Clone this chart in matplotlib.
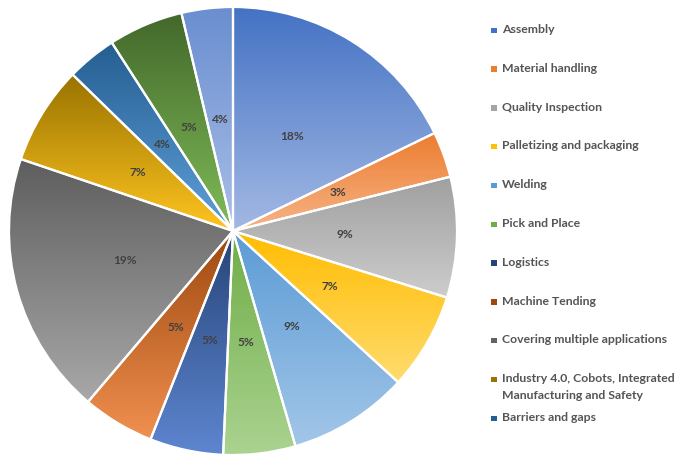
import numpy as np
import matplotlib
matplotlib.use("Agg")
import matplotlib.pyplot as plt
from matplotlib.colors import LinearSegmentedColormap
from matplotlib.patches import Rectangle, Wedge

plt.rcParams["font.family"] = ["Lato", "DejaVu Sans"]

# share of each application (%), clockwise from 12 o'clock
categories = [
    "Assembly",
    "Material handling",
    "Quality Inspection",
    "Palletizing and packaging",
    "Welding",
    "Pick and Place",
    "Logistics",
    "Machine Tending",
    "Covering multiple applications",
    "Industry 4.0, Cobots, Integrated\nManufacturing and Safety",
    "Barriers and gaps",
    "Other (12)",
    "Other (13)",
]
shares = [17.8, 3.3, 8.7, 7.0, 8.7, 5.2, 5.3, 5.2, 19.0, 7.1, 3.6, 5.4, 3.7]
n_legend = 11  # the last two entries are cut off in the source legend

# top / bottom colours of each slice gradient
top_colors = ["#4472C4", "#ED7D31", "#A0A0A0", "#FFBC00", "#5B9BD5", "#70AD47",
              "#264478", "#9E480E", "#5E5E5E", "#997300", "#255E91", "#43682B", "#6A8ED0"]
bottom_colors = ["#A3B9E4", "#F6B486", "#CDCDCD", "#FFDC6E", "#A2C6E8", "#AAD390",
                 "#5E86D0", "#F09050", "#A8A8A8", "#FFC520", "#5FA0DA", "#80BC58", "#A9BFE7"]
legend_colors = ["#4472C4", "#ED7D31", "#A5A5A5", "#FFC000", "#5B9BD5", "#70AD47",
                 "#264478", "#9E480E", "#636363", "#997300", "#255E91"]

fig = plt.figure(figsize=(6.8, 4.55), dpi=100)
ax = fig.add_axes([0, 0, 1, 1])

cx, cy, R = 233, 455 - 231, 224
wedges, _, pct_texts = ax.pie(
    shares, startangle=90, counterclock=False, center=(cx, cy), radius=R,
    autopct="%.0f%%", pctdistance=0.5, frame=True,
    wedgeprops=dict(facecolor="none", edgecolor="white", linewidth=1.6, zorder=3),
)

grad = np.linspace(0, 1, 256).reshape(-1, 1)
for w, c0, c1 in zip(wedges, top_colors, bottom_colors):
    ext = w.get_path().get_extents()
    cmap = LinearSegmentedColormap.from_list("g", [c0, c1])
    im = ax.imshow(grad, cmap=cmap, aspect="auto", origin="upper",
                   extent=(ext.x0, ext.x1, ext.y0, ext.y1), interpolation="bilinear", zorder=2)
    im.set_clip_path(w)

for t in pct_texts:
    t.set_fontsize(8.6)
    t.set_fontweight("bold")
    t.set_color("#404040")
    t.set_zorder(4)

# legend drawn by hand to keep the wide spacing of the source
for i in range(n_legend):
    y = 455 - (30 + 38.8 * i)
    ax.add_patch(Rectangle((491, y - 3), 5.5, 5.5, facecolor=legend_colors[i], edgecolor="none"))
    ax.text(502, y + 6, categories[i], fontsize=8.8, fontweight="bold", color="#555555",
            va="top", ha="left", linespacing=1.6)

ax.set_xlim(0, 680)
ax.set_ylim(0, 455)
ax.set_aspect("equal")
ax.axis("off")

fig.savefig("out.png", dpi=100)
